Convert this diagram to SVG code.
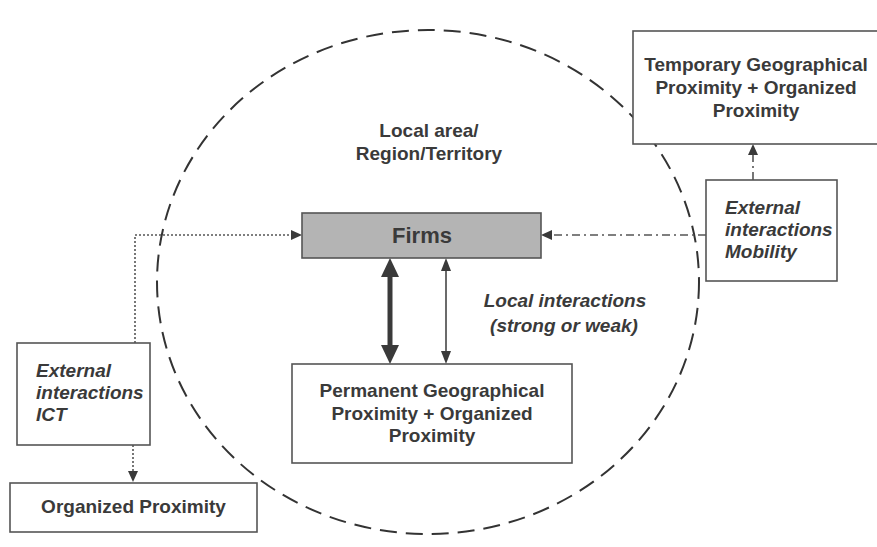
<svg xmlns="http://www.w3.org/2000/svg" width="877" height="547" viewBox="0 0 877 547">
  <style>
    .box { fill: #ffffff; stroke: #555555; stroke-width: 1.6; }
    .firm { fill: #b4b4b4; stroke: #555555; stroke-width: 1.6; }
    .t { font-family: "Liberation Sans", Arial, sans-serif; font-weight: bold; font-size: 19px; fill: #3a3a3a; }
    .c { text-anchor: middle; }
    .i { font-style: italic; }
    .area { fill: none; stroke: #333333; stroke-width: 2; stroke-dasharray: 17 9; }
    .dot { fill: none; stroke: #555555; stroke-width: 1.6; stroke-dasharray: 2 2; }
    .dashdot { fill: none; stroke: #555555; stroke-width: 1.6; stroke-dasharray: 8 4 2 4; }
    .head { fill: #3a3a3a; }
  </style>
  <rect width="877" height="547" fill="#ffffff"/>

  <!-- local area boundary -->
  <ellipse class="area" cx="428" cy="282" rx="271" ry="252"/>
  <text class="t c" x="429" y="137">Local area/</text>
  <text class="t c" x="429" y="160">Region/Territory</text>

  <g id="connectors">
    <!-- ICT link: dotted, to Firms and down to Organized Proximity -->
    <polyline class="dot" points="135,343 135,235 292,235"/>
    <polygon class="head" points="302,235 291,230 291,240"/>
    <line class="dot" x1="133" y1="445" x2="133" y2="472"/>
    <polygon class="head" points="133,482 128,471 138,471"/>
    <!-- mobility link: dash-dot, to Firms and up to temporary proximity -->
    <line class="dashdot" x1="706" y1="235" x2="552" y2="235"/>
    <polygon class="head" points="541,235 552,230 552,240"/>
    <line class="dashdot" x1="753" y1="180" x2="753" y2="155"/>
    <polygon class="head" points="753,144 748,155 758,155"/>
    <!-- strong local interaction -->
    <line x1="390" y1="274" x2="390" y2="348" stroke="#3a3a3a" stroke-width="5"/>
    <polygon class="head" points="390,258 381,277 399,277"/>
    <polygon class="head" points="390,364 381,345 399,345"/>
    <!-- weak local interaction -->
    <line x1="446" y1="268" x2="446" y2="354" stroke="#3a3a3a" stroke-width="1.5"/>
    <polygon class="head" points="446,258 441,271 451,271"/>
    <polygon class="head" points="446,364 441,351 451,351"/>
  </g>
  <text class="t c i" x="565" y="307">Local interactions</text>
  <text class="t c i" x="564" y="332">(strong or weak)</text>

  <g id="firms">
    <rect class="firm" x="302" y="213" width="239" height="45"/>
    <text class="t c" x="422" y="243" style="font-size:22px">Firms</text>
  </g>

  <g id="permanent">
    <rect class="box" x="292" y="364" width="280" height="99"/>
    <text class="t c" x="432" y="397">Permanent Geographical</text>
    <text class="t c" x="432" y="420">Proximity + Organized</text>
    <text class="t c" x="432" y="442">Proximity</text>
  </g>

  <g id="temporary">
    <rect class="box" x="633" y="31" width="245" height="113"/>
    <text class="t c" x="756" y="71">Temporary Geographical</text>
    <text class="t c" x="756" y="94">Proximity + Organized</text>
    <text class="t c" x="756" y="117">Proximity</text>
  </g>

  <g id="mobility">
    <rect class="box" x="706" y="180" width="131" height="101"/>
    <text class="t i" x="725" y="214">External</text>
    <text class="t i" x="725" y="236">interactions</text>
    <text class="t i" x="725" y="258">Mobility</text>
  </g>

  <g id="ict">
    <rect class="box" x="17" y="343" width="133" height="102"/>
    <text class="t i" x="36" y="377">External</text>
    <text class="t i" x="36" y="399">interactions</text>
    <text class="t i" x="36" y="421">ICT</text>
  </g>

  <g id="organized">
    <rect class="box" x="10" y="483" width="247" height="49"/>
    <text class="t c" x="133.5" y="513">Organized Proximity</text>
  </g>
</svg>
